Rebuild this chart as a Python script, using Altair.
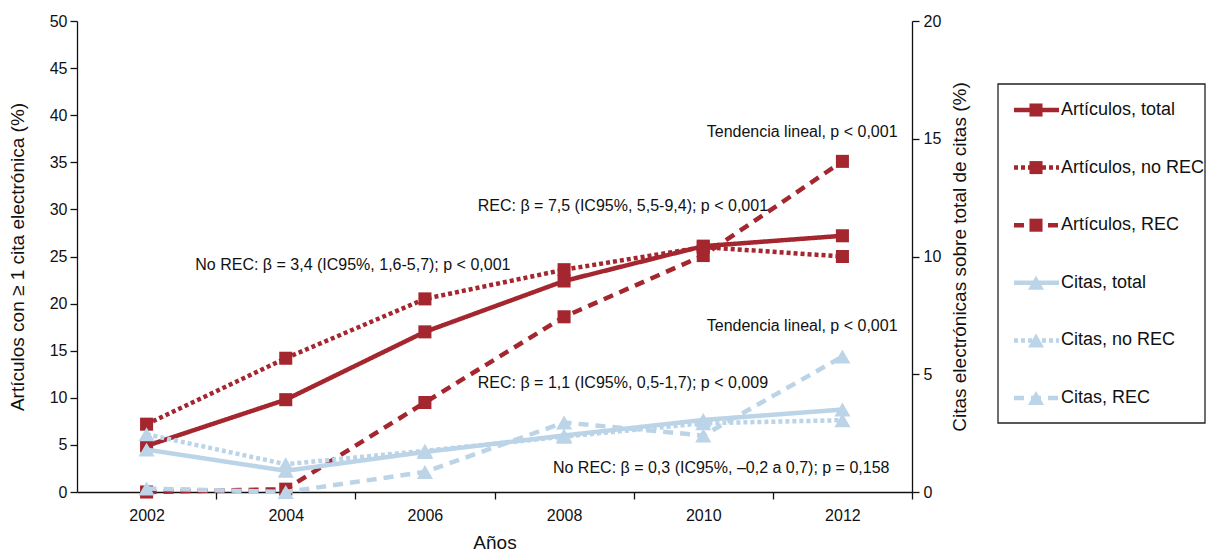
import altair as alt
import pandas as pd

# ---------------- data ----------------
years = [2002, 2004, 2006, 2008, 2010, 2012]

art_total = [4.9, 9.8, 17.0, 22.4, 26.1, 27.2]
art_norec = [7.2, 14.2, 20.5, 23.6, 26.0, 25.0]
art_rec = [0.0, 0.3, 9.5, 18.6, 25.1, 35.1]

cit_total = [1.8, 0.9, 1.7, 2.4, 3.06, 3.5]
cit_norec = [2.45, 1.18, 1.75, 2.35, 2.92, 3.05]
cit_rec = [0.15, 0.0, 0.85, 2.95, 2.4, 5.75]

series_names = [
    "Artículos, total",
    "Artículos, no REC",
    "Artículos, REC",
    "Citas, total",
    "Citas, no REC",
    "Citas, REC",
]

ann_text = [
    "Tendencia lineal, p < 0,001",
    "REC: β = 7,5 (IC95%, 5,5-9,4); p < 0,001",
    "No REC: β = 3,4 (IC95%, 1,6-5,7); p < 0,001",
    "Tendencia lineal, p < 0,001",
    "REC: β = 1,1 (IC95%, 0,5-1,7); p < 0,009",
    "No REC: β = 0,3 (IC95%, –0,2 a 0,7); p = 0,158",
]
ann_x = [2010.05, 2006.76, 2002.70, 2010.05, 2006.76, 2007.84]
ann_y = [38.2, 30.4, 24.1, 17.6, 11.6, 2.5]

x_label_years = [2002, 2004, 2006, 2008, 2010, 2012]
left_ticks = [0, 5, 10, 15, 20, 25, 30, 35, 40, 45, 50]
right_ticks = [0, 5, 10, 15, 20]

# ---------------- tables ----------------
def long(names, values_list):
    rows = []
    for n, vals in zip(names, values_list):
        for y, v in zip(years, vals):
            rows.append({"series": n, "year": y, "value": v})
    return pd.DataFrame(rows)

df_art = long(series_names[:3], [art_total, art_norec, art_rec])
df_cit = long(series_names[3:], [cit_total, cit_norec, cit_rec])
df_ann = pd.DataFrame({"text": ann_text, "x": ann_x, "y": ann_y})
df_leg = pd.DataFrame({"series": series_names})

RED = "#A4262F"
BLUE = "#BBD4E7"
FONT = "Liberation Sans"

W, H = 835, 471
step_px = W / 12.0

color_scale = alt.Scale(domain=series_names, range=[RED] * 3 + [BLUE] * 3)
dash_scale = alt.Scale(
    domain=series_names,
    range=[[1, 0], [4, 3], [10, 7], [1, 0], [4, 3], [10, 7]],
)

x_enc = alt.X(
    "year:Q",
    scale=alt.Scale(domain=[2001, 2013], nice=False, zero=False),
    axis=alt.Axis(
        values=x_label_years,
        format="d",
        title="Años",
        tickOffset=step_px,
        labelOffset=-step_px,
        tickSize=7,
        labelPadding=8,
        titlePadding=10,
    ),
)

color_enc = alt.Color("series:N", scale=color_scale, legend=None)
dash_enc = alt.StrokeDash("series:N", scale=dash_scale, legend=None)

y_left = alt.Y(
    "value:Q",
    scale=alt.Scale(domain=[0, 50], nice=False),
    axis=alt.Axis(
        values=left_ticks,
        title="Artículos con ≥ 1 cita electrónica (%)",
        tickSize=7,
        labelPadding=3,
        titlePadding=22,
    ),
)
y_right = alt.Y(
    "value:Q",
    scale=alt.Scale(domain=[0, 20], nice=False),
    axis=alt.Axis(
        values=right_ticks,
        orient="right",
        title="Citas electrónicas sobre total de citas (%)",
        titleAngle=270,
        titleBaseline="top",
        tickSize=7,
        labelPadding=4,
        titlePadding=10,
    ),
)

art_line = alt.Chart(df_art).mark_line(strokeWidth=4.5).encode(
    x=x_enc, y=y_left, color=color_enc, strokeDash=dash_enc, detail="series:N"
)
art_pts = alt.Chart(df_art).mark_point(
    shape="square", filled=True, opacity=1, size=170
).encode(x="year:Q", y="value:Q", color=color_enc)
ann = alt.Chart(df_ann).mark_text(
    align="left", baseline="middle", fontSize=16, font=FONT, color="#111"
).encode(x="x:Q", y="y:Q", text="text:N")

art_layer = alt.layer(art_line, art_pts, ann)

cit_line = alt.Chart(df_cit).mark_line(strokeWidth=4.5).encode(
    x=x_enc, y=y_right, color=color_enc, strokeDash=dash_enc, detail="series:N"
)
cit_pts = alt.Chart(df_cit).mark_point(
    shape="triangle-up", filled=True, opacity=1, size=260
).encode(x="year:Q", y="value:Q", color=color_enc)
cit_layer = alt.layer(cit_line, cit_pts)

main = alt.layer(art_layer, cit_layer).resolve_scale(y="independent").properties(
    width=W, height=H
)

# ---------------- legend panel ----------------
LW = 209
ly = alt.Y(
    "series:N",
    scale=alt.Scale(domain=series_names, type="point", range=[89, 377], padding=0),
    axis=None,
)
leg_frame = alt.Chart(pd.DataFrame({"f": [0]})).mark_rect(
    filled=False, stroke="#222", strokeWidth=1.3
).encode(x=alt.value(1), x2=alt.value(LW - 1), y=alt.value(63), y2=alt.value(402))
leg_line = alt.Chart(df_leg).mark_rule(strokeWidth=4.5).encode(
    x=alt.value(17), x2=alt.value(62), y=ly, color=color_enc, strokeDash=dash_enc
)
leg_sq = alt.Chart(df_leg).transform_filter(
    alt.FieldOneOfPredicate(field="series", oneOf=series_names[:3])
).mark_point(shape="square", filled=True, opacity=1, size=170).encode(
    x=alt.value(39), y=ly, color=color_enc
)
leg_tri = alt.Chart(df_leg).transform_filter(
    alt.FieldOneOfPredicate(field="series", oneOf=series_names[3:])
).mark_point(shape="triangle-up", filled=True, opacity=1, size=260).encode(
    x=alt.value(39), y=ly, color=color_enc
)
leg_txt = alt.Chart(df_leg).mark_text(
    align="left", baseline="middle", fontSize=18, font=FONT, color="#111"
).encode(x=alt.value(64), y=ly, text="series:N")

legend = alt.layer(leg_frame, leg_line, leg_sq, leg_tri, leg_txt).properties(
    width=LW, height=H
)

chart = (
    alt.hconcat(main, legend, spacing=85, bounds="flush")
    .properties(padding={"left": 0, "right": 0, "top": 5, "bottom": 0})
    .configure_view(stroke=None)
    .configure_axis(
        labelFont=FONT,
        titleFont=FONT,
        labelFontSize=16,
        titleFontSize=19,
        titleFontWeight="normal",
        labelColor="#111",
        titleColor="#111",
        domainColor="#111",
        tickColor="#111",
        domainWidth=1.3,
        tickWidth=1.3,
        grid=False,
    )
)

chart.save("out.html", embed_options={"renderer": "svg", "actions": False})
